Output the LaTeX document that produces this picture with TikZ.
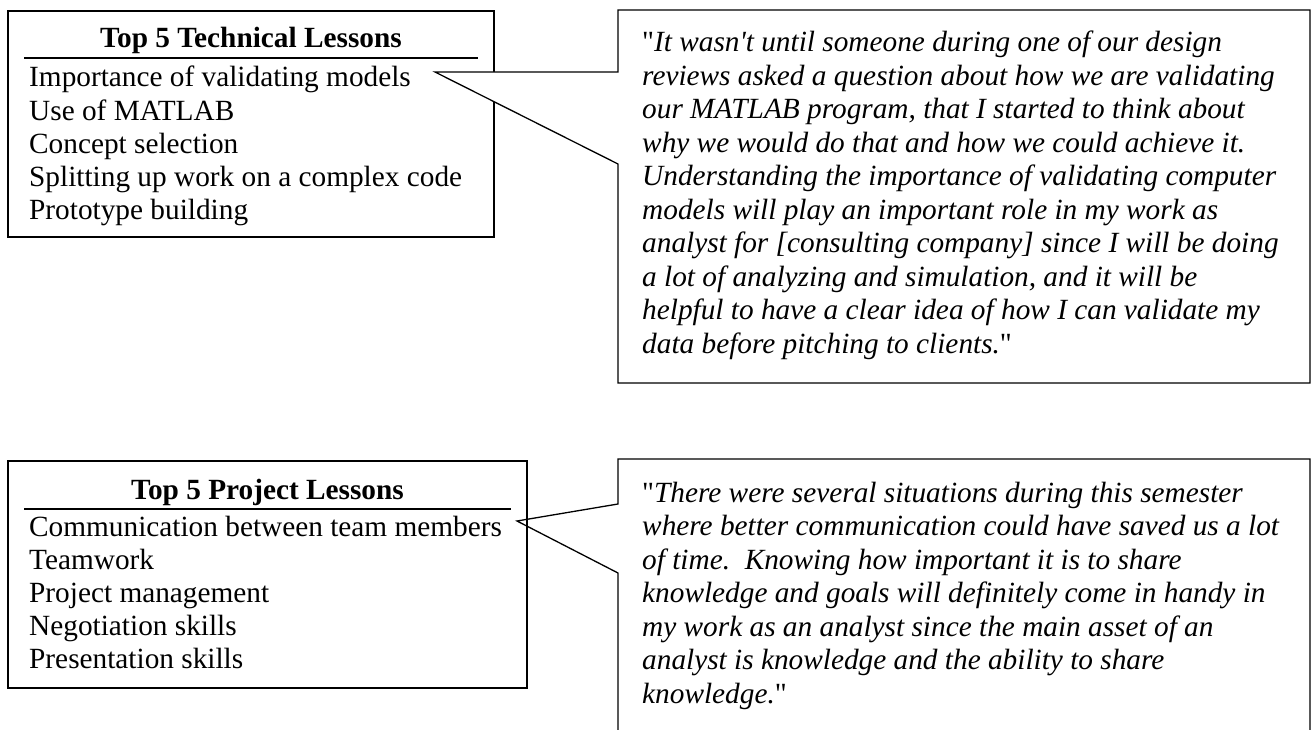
\documentclass[tikz,border=0pt]{standalone}
\usepackage{fontspec}
\setmainfont{Liberation Serif}[Ligatures=TeXOff]
\tikzset{
  boxline/.style={line width=1.3pt, line join=miter},
  rulebar/.style={line width=2pt},
  listtxt/.style={inner sep=0pt, anchor=base west, font=\fontsize{29.3}{33.2}\selectfont},
  quotetxt/.style={inner sep=0pt, anchor=base west, font=\fontsize{29.3}{33.5}\selectfont},
  titletxt/.style={inner sep=0pt, anchor=base, font=\fontsize{29.3}{33.2}\selectfont\bfseries},
}
\begin{document}
\begin{tikzpicture}[x=1pt,y=-1pt]
\useasboundingbox (0,0) rectangle (1312,730);
% ---------- top left box ----------
\draw[boxline] (8,11) rectangle (494,237);
\node[titletxt] (t1) at (251,48) {Top 5 Technical Lessons};
\draw[rulebar] (24,58) -- (478,58);
\node[listtxt] (l1) at (29,87) {\begin{tabular}[t]{@{}l@{}}
Importance of validating models\\
Use of MATLAB\\
Concept selection\\
Splitting up work on a complex code\\
Prototype building
\end{tabular}};
% ---------- top callout ----------
\coordinate (tip1) at (435,72);
\coordinate (c1a) at (618,72);
\coordinate (c1b) at (618,164);
\filldraw[boxline, fill=white] (c1a) -- (618,10) -- (1310,10) -- (1310,383) -- (618,383) -- (c1b) -- (tip1) -- cycle;
\node[quotetxt] (q1) at (642,52) {\begin{tabular}[t]{@{}l@{}}
"\textit{It wasn't until someone during one of our design}\\
\textit{reviews asked a question about how we are validating}\\
\textit{our MATLAB program, that I started to think about}\\
\textit{why we would do that and how we could achieve it.}\\
\textit{Understanding the importance of validating computer}\\
\textit{models will play an important role in my work as}\\
\textit{analyst for [consulting company] since I will be doing}\\
\textit{a lot of analyzing and simulation, and it will be}\\
\textit{helpful to have a clear idea of how I can validate my}\\
\textit{data before pitching to clients.}"
\end{tabular}};
% ---------- bottom left box ----------
\draw[boxline] (8,461) rectangle (527,688);
\node[titletxt] (t2) at (267.5,499) {Top 5 Project Lessons};
\draw[rulebar] (24,509) -- (511,509);
\node[listtxt] (l2) at (29,536) {\begin{tabular}[t]{@{}l@{}}
Communication between team members\\
Teamwork\\
Project management\\
Negotiation skills\\
Presentation skills
\end{tabular}};
% ---------- bottom callout ----------
\coordinate (tip2) at (517,521);
\coordinate (c2a) at (618,504);
\coordinate (c2b) at (618,573);
\draw[boxline] (618,730) -- (c2b) -- (tip2) -- (c2a) -- (618,459) -- (1310,459) -- (1310,730);
\node[quotetxt] (q2) at (642,502) {\begin{tabular}[t]{@{}l@{}}
"\textit{There were several situations during this semester}\\
\textit{where better communication could have saved us a lot}\\
\textit{of time.\ \ Knowing how important it is to share}\\
\textit{knowledge and goals will definitely come in handy in}\\
\textit{my work as an analyst since the main asset of an}\\
\textit{analyst is knowledge and the ability to share}\\
\textit{knowledge.}"
\end{tabular}};
\end{tikzpicture}
\end{document}
